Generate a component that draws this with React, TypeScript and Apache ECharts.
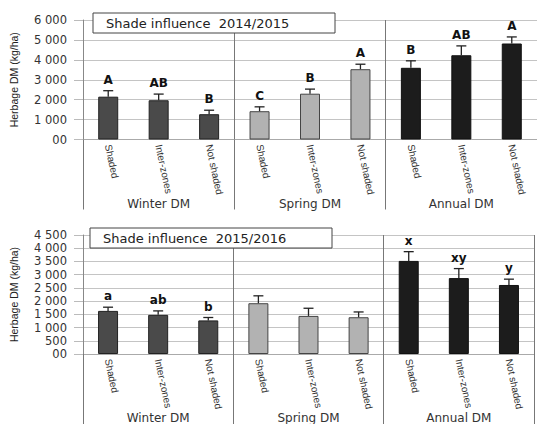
import React, { useEffect, useRef } from "react";
import * as echarts from "echarts";

const categories = [
  "Shaded", "Inter-zones", "Not shaded",
  "Shaded", "Inter-zones", "Not shaded",
  "Shaded", "Inter-zones", "Not shaded",
];
const groups = ["Winter DM", "Spring DM", "Annual DM"];

const topMeans = [2150, 1970, 1270, 1420, 2300, 3530, 3600, 4230, 4820];
const topErrors = [300, 310, 200, 220, 230, 250, 350, 470, 330];
const topLetters = ["A", "AB", "B", "C", "B", "A", "B", "AB", "A"];

const bottomMeans = [1630, 1480, 1270, 1920, 1440, 1390, 3520, 2870, 2610];
const bottomErrors = [140, 150, 110, 280, 290, 200, 350, 360, 220];
const bottomLetters = ["a", "ab", "b", "", "", "", "x", "xy", "y"];

const topTitle = "Shade influence  2014/2015";
const bottomTitle = "Shade influence  2015/2016";
const yName = "Herbage DM (kg/ha)";

const groupColors = ["#4a4a4a", "#b2b2b2", "#1c1c1c"];
const groupBorders = ["#222", "#444", "#111"];

const narrow = "'Liberation Sans Narrow', 'Liberation Sans', Arial, sans-serif";

const fmt = (v: number) => {
  if (v === 0) return "00";
  if (v >= 1000) return `${Math.floor(v / 1000)} ${String(v % 1000).padStart(3, "0")}`;
  return String(v);
};

const barData = (means: number[]) =>
  means.map((v, i) => ({
    value: v,
    itemStyle: {
      color: groupColors[Math.floor(i / 3)],
      borderColor: groupBorders[Math.floor(i / 3)],
      borderWidth: 1,
    },
  }));

const errSeries = (means: number[], errs: number[], letters: string[], idx: number) => ({
  type: "custom",
  xAxisIndex: idx * 2,
  yAxisIndex: idx,
  z: 5,
  data: means.map((m, i) => [i, m, errs[i]]),
  renderItem: (params: any, api: any) => {
    const i = api.value(0);
    const m = api.value(1);
    const e = api.value(2);
    const p0 = api.coord([i, m]);
    const p1 = api.coord([i, m + e]);
    const half = 5;
    const st = { stroke: "#222", lineWidth: 1.3 };
    return {
      type: "group",
      children: [
        { type: "line", shape: { x1: p0[0], y1: p0[1], x2: p1[0], y2: p1[1] }, style: st },
        { type: "line", shape: { x1: p1[0] - half, y1: p1[1], x2: p1[0] + half, y2: p1[1] }, style: st },
        {
          type: "text",
          x: p1[0],
          y: p1[1] - 5,
          style: {
            text: letters[params.dataIndex],
            align: "center",
            verticalAlign: "bottom",
            font: "bold 12px 'DejaVu Sans'",
            fill: "#111",
          },
        },
      ],
    };
  },
});

const titleBox = (x: number, y: number, text: string) => ({
  type: "group",
  z: 100,
  children: [
    {
      type: "rect",
      shape: { x, y, width: 242, height: 20 },
      style: { fill: "#fff", stroke: "#444", lineWidth: 1 },
      z: 100,
    },
    {
      type: "text",
      x: x + 13,
      y: y + 10,
      style: {
        text,
        font: "13px 'DejaVu Sans'",
        fill: "#222",
        verticalAlign: "middle",
      },
      z: 101,
    },
  ],
});

export default function App() {
  const ref = useRef<HTMLDivElement>(null);
  useEffect(() => {
    if (!ref.current) return;
    const chart = echarts.init(ref.current, undefined, { renderer: "svg" });

    const catAxis = (gridIndex: number) => ({
      type: "category",
      gridIndex,
      position: "bottom",
      data: categories,
      axisLine: { show: true, lineStyle: { color: "#aaa" } },
      axisTick: { show: false },
      axisLabel: {
        interval: 0,
        rotate: -78,
        margin: 5,
        fontFamily: narrow,
        fontSize: 10,
        color: "#333",
      },
    });
    const groupAxis = (gridIndex: number) => ({
      type: "category",
      gridIndex,
      position: "bottom",
      data: groups,
      axisLine: { show: false },
      axisTick: { show: true, length: 70, interval: 0, lineStyle: { color: "#777" } },
      splitLine: { show: true, interval: 0, lineStyle: { color: "#777" } },
      axisLabel: {
        interval: 0,
        margin: 58,
        fontFamily: "'DejaVu Sans', sans-serif",
        fontSize: 12,
        color: "#333",
      },
    });
    const valAxis = (gridIndex: number, max: number, interval: number) => ({
      type: "value",
      gridIndex,
      min: 0,
      max,
      interval,
      name: yName,
      nameLocation: "middle",
      nameGap: 64,
      nameRotate: 90,
      nameTextStyle: {
        fontFamily: narrow,
        fontSize: 10.5,
        color: "#222",
      },
      axisLine: { show: true, lineStyle: { color: "#888" } },
      axisTick: { show: true, length: 9, lineStyle: { color: "#bbb" } },
      splitLine: { show: true, lineStyle: { color: "#c4c4c4" } },
      axisLabel: {
        margin: 16,
        formatter: fmt,
        fontFamily: "'DejaVu Sans', sans-serif",
        fontSize: 11.5,
        color: "#333",
      },
    });

    chart.setOption({
      animation: false,
      backgroundColor: "#fff",
      grid: [
        { left: 81, top: 20, width: 456, height: 119.5 },
        { left: 79, top: 235, width: 455, height: 119.3 },
      ],
      xAxis: [catAxis(0), groupAxis(0), catAxis(1), groupAxis(1)],
      yAxis: [valAxis(0, 6000, 1000), valAxis(1, 4500, 500)],
      series: [
        { type: "bar", xAxisIndex: 0, yAxisIndex: 0, barWidth: 20, data: barData(topMeans) },
        errSeries(topMeans, topErrors, topLetters, 0),
        { type: "bar", xAxisIndex: 2, yAxisIndex: 1, barWidth: 20, data: barData(bottomMeans) },
        errSeries(bottomMeans, bottomErrors, bottomLetters, 1),
      ],
      graphic: [titleBox(93, 13, topTitle), titleBox(90, 228, bottomTitle)],
    });
    return () => chart.dispose();
  }, []);
  return (
    <div
      ref={ref}
      style={{ position: "fixed", left: 0, top: 0, width: 537, height: 424 }}
    />
  );
}
